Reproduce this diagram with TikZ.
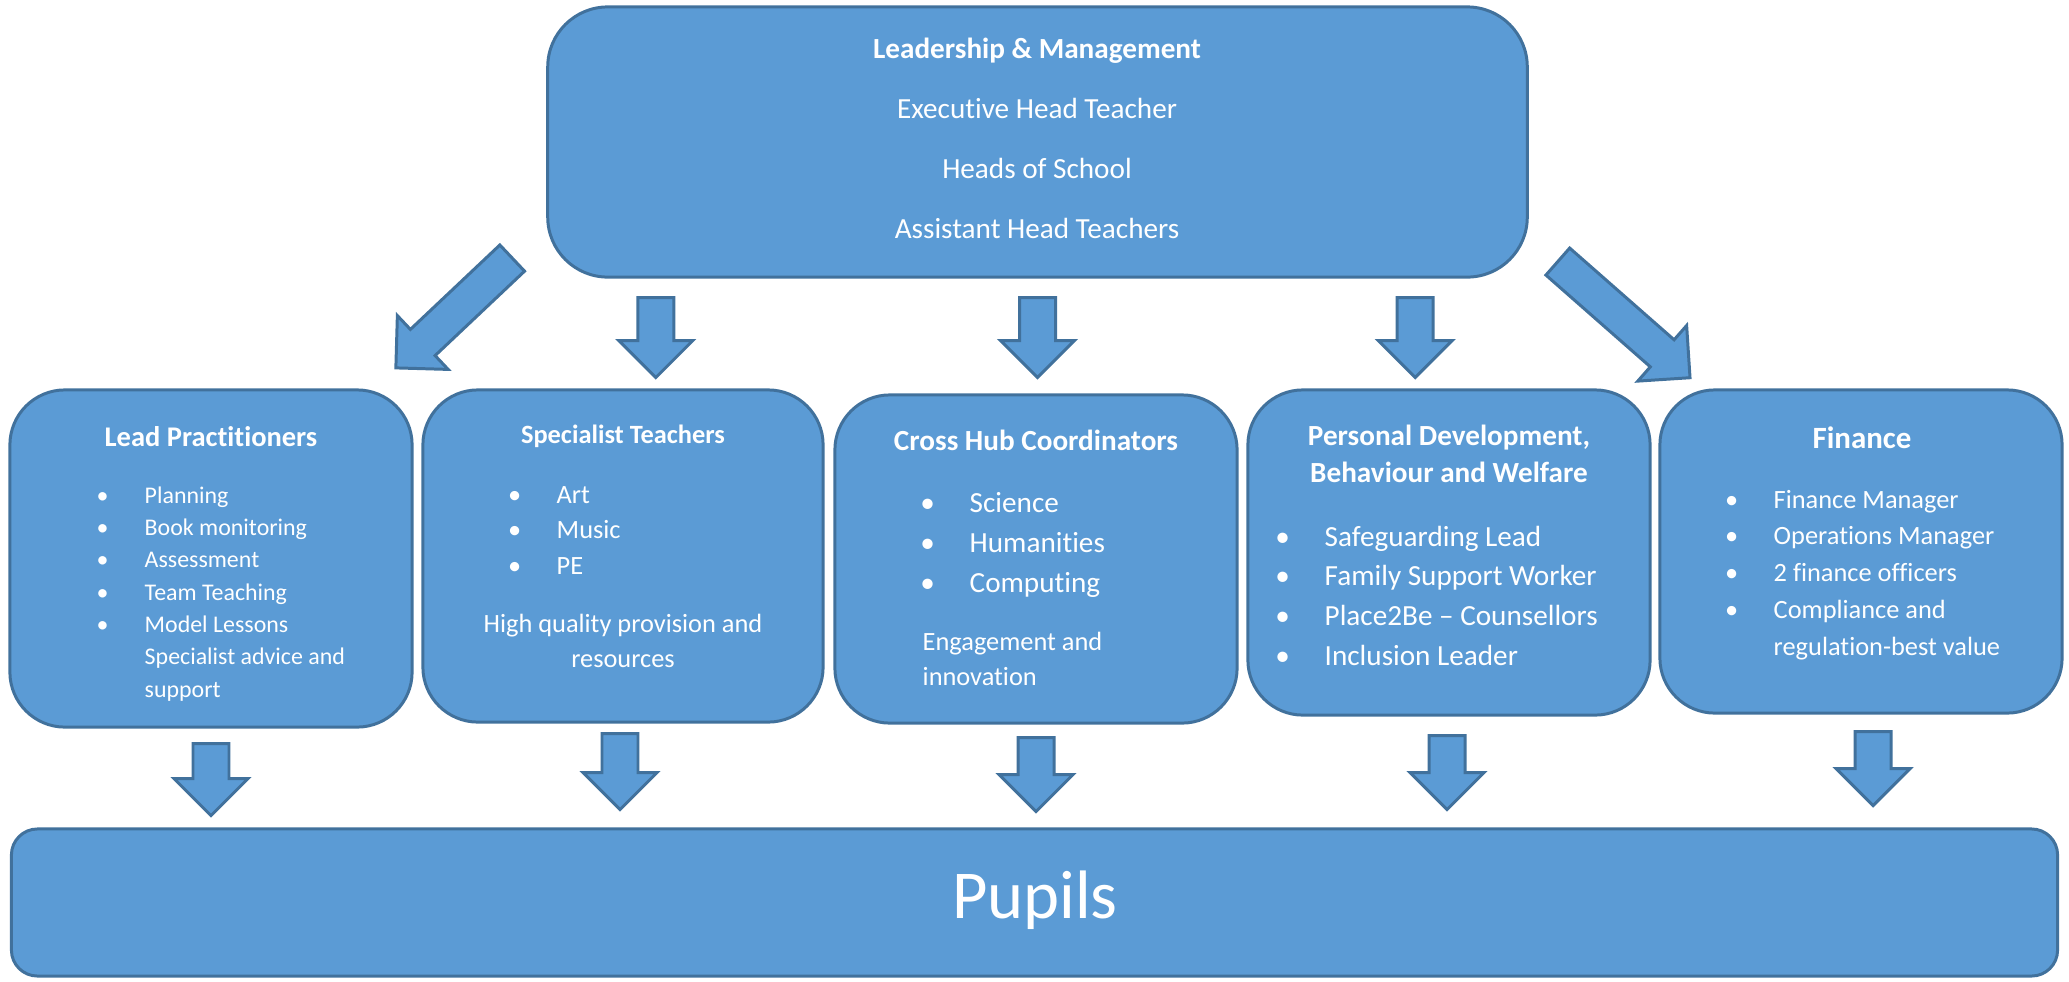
\documentclass[tikz,border=0pt]{standalone}
\usepackage{fontspec}
\setmainfont{Carlito}[Ligatures={TeX,NoCommon}]
\definecolor{boxblue}{HTML}{5B9BD5}
\definecolor{edgeblue}{HTML}{41719C}
\newcommand{\cstack}[1]{\begin{tabular}[t]{@{}c@{}}#1\end{tabular}}
\newcommand{\lstack}[1]{\begin{tabular}[t]{@{}l@{}}#1\end{tabular}}
\newcommand{\bul}[1]{\makebox[0pt]{\textbullet}\hspace{4.2mm}#1}
\newcommand{\indt}[1]{\hspace{4.2mm}#1}
\newcommand{\fsz}[2]{\fontsize{#1}{#2}\selectfont}
\tikzset{
  box/.style={draw=edgeblue, fill=boxblue, line width=0.85pt, rectangle, rounded corners=5.5mm, inner sep=0pt},
  lbl/.style={text=white, inner sep=0pt, anchor=base},
  lst/.style={text=white, inner sep=0pt, anchor=base west},
  arrlen/.store in=\arrlen, arrlen=80,
  blockarr/.pic={\draw[draw=edgeblue, fill=boxblue, line width=0.85pt, line join=miter] (0,-18) -- ({\arrlen-37},-18) -- ({\arrlen-37},-37) -- (\arrlen,0) -- ({\arrlen-37},37) -- ({\arrlen-37},18) -- (0,18) -- cycle;}
}
\begin{document}
\begin{tikzpicture}[x=0.01cm, y=-0.01cm]
\useasboundingbox (0,0) rectangle (2069,981);
\node[box, rounded corners=6mm, minimum width=97.9mm, minimum height=27mm] (leadership) at (1037.5,142) {};
\node[box, minimum width=40.2mm, minimum height=33.7mm] (leadprac) at (211,558.5) {};
\node[box, minimum width=40mm, minimum height=33.2mm] (specialist) at (623,556) {};
\node[box, minimum width=40.2mm, minimum height=32.8mm] (crosshub) at (1036,559) {};
\node[box, minimum width=40.2mm, minimum height=32.5mm] (welfare) at (1449,552.5) {};
\node[box, minimum width=40.2mm, minimum height=32.3mm] (finance) at (1861,551.5) {};
\node[box, rounded corners=2.6mm, minimum width=204.5mm, minimum height=14.7mm] (pupils) at (1034.5,902.5) {};

\pic[rotate=-90] at ([xshift=-38.15mm,yshift=-1.9mm]leadership.south) {blockarr};
\pic[rotate=-90] at ([yshift=-1.9mm]leadership.south) {blockarr};
\pic[rotate=-90] at ([xshift=37.75mm,yshift=-1.9mm]leadership.south) {blockarr};
\pic[rotate=-136.65, arrlen=160] at ([xshift=-3.4mm,yshift=2.05mm]leadership.south west) {blockarr};
\pic[rotate=-41.3, arrlen=176] at ([xshift=2.9mm,yshift=1.7mm]leadership.south east) {blockarr};
\pic[rotate=-90, arrlen=72] at ([yshift=-1.5mm]leadprac.south) {blockarr};
\pic[rotate=-90, arrlen=76] at ([xshift=-0.3mm,yshift=-1mm]specialist.south) {blockarr};
\pic[rotate=-90, arrlen=74] at ([yshift=-1.3mm]crosshub.south) {blockarr};
\pic[rotate=-90, arrlen=74] at ([xshift=-0.2mm,yshift=-1.9mm]welfare.south) {blockarr};
\pic[rotate=-90, arrlen=74] at ([xshift=1.2mm,yshift=-1.7mm]finance.south) {blockarr};

\node[lbl, font=\bfseries\fsz{8.3}{10}] (lmtitle) at (1037,58) {Leadership \& Management};
\node[lbl, font=\fsz{8.3}{17.1}] (lmroles) at (1037,118) {\cstack{Executive Head Teacher\\Heads of School\\Assistant Head Teachers}};

\node[lbl, font=\bfseries\fsz{8.1}{10}] (lptitle) at (211,446) {Lead Practitioners};
\node[lst, font=\fsz{6.8}{9.2}] (lplist) at (102,503) {\lstack{\bul{Planning}\\\bul{Book monitoring}\\\bul{Assessment}\\\bul{Team Teaching}\\\bul{Model Lessons}\\\indt{Specialist advice and}\\\indt{support}}};

\node[lbl, font=\bfseries\fsz{7.5}{10}] (sttitle) at (623,443) {Specialist Teachers};
\node[lst, font=\fsz{7.5}{10.1}] (stlist) at (514,503) {\lstack{\bul{Art}\\\bul{Music}\\\bul{PE}}};
\node[lbl, font=\fsz{7.5}{10}] (stnote) at (623,632) {\cstack{High quality provision and\\resources}};

\node[lbl, font=\bfseries\fsz{8.3}{10}] (chtitle) at (1036,450) {Cross Hub Coordinators};
\node[lst, font=\fsz{8.3}{11.4}] (chlist) at (927,512) {\lstack{\bul{Science}\\\bul{Humanities}\\\bul{Computing}}};
\node[lst, font=\fsz{7.5}{10}] (chnote) at (922,650) {\lstack{Engagement and\\innovation}};

\node[lbl, font=\bfseries\fsz{8.3}{10.8}] (pdtitle) at (1449,445) {\cstack{Personal Development,\\Behaviour and Welfare}};
\node[lst, font=\fsz{8.3}{11.3}] (pdlist) at (1282,546) {\lstack{\bul{Safeguarding Lead}\\\bul{Family Support Worker}\\\bul{Place2Be -- Counsellors}\\\bul{Inclusion Leader}}};

\node[lbl, font=\bfseries\fsz{8.8}{10}] (fintitle) at (1862,448) {Finance};
\node[lst, font=\fsz{7.5}{10.5}] (finlist) at (1731,508) {\lstack{\bul{Finance Manager}\\\bul{Operations Manager}\\\bul{2 finance officers}\\\bul{Compliance and}\\\indt{regulation-best value}}};

\node[lbl, font=\fsz{19.5}{24}] (pupiltxt) at (1035,918) {Pupils};
\end{tikzpicture}
\end{document}
